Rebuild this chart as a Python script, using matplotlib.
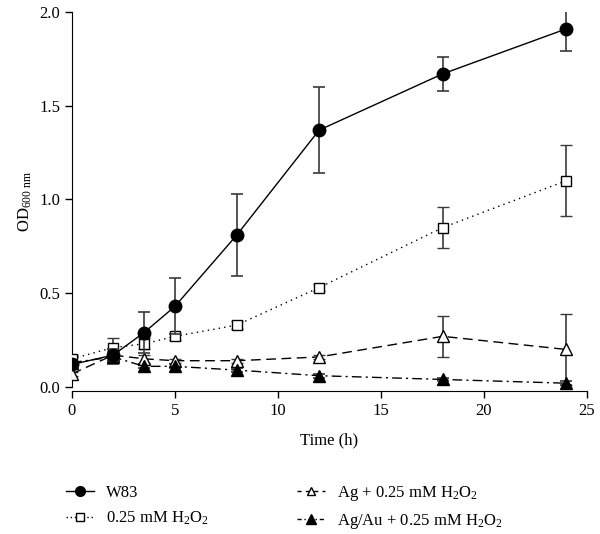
import matplotlib
matplotlib.use("Agg")
import matplotlib.pyplot as plt
import numpy as np
from matplotlib.lines import Line2D

plt.rcParams['font.family'] = ['Liberation Serif', 'DejaVu Serif']
plt.rcParams['mathtext.fontset'] = 'custom'
plt.rcParams['mathtext.rm'] = 'Liberation Serif'
plt.rcParams['mathtext.it'] = 'Liberation Serif:italic'

time_h = [0, 2, 3.5, 5, 8, 12, 18, 24]
w83 = [0.12, 0.17, 0.29, 0.43, 0.81, 1.37, 1.67, 1.91]
w83_err = [0.02, 0.03, 0.11, 0.15, 0.22, 0.23, 0.09, 0.12]
h2o2 = [0.15, 0.21, 0.23, 0.27, 0.33, 0.53, 0.85, 1.10]
h2o2_err = [0.02, 0.05, 0.03, 0.02, 0.02, 0.02, 0.11, 0.19]
ag = [0.07, 0.17, 0.15, 0.14, 0.14, 0.16, 0.27, 0.20]
ag_err = [0.01, 0.02, 0.02, 0.01, 0.01, 0.01, 0.11, 0.19]
agau = [0.13, 0.16, 0.11, 0.11, 0.09, 0.06, 0.04, 0.02]
agau_err = [0.01, 0.04, 0.01, 0.01, 0.01, 0.01, 0.01, 0.01]

labels = ['W83', r'0.25 mM H$_2$O$_2$', r'Ag + 0.25 mM H$_2$O$_2$', r'Ag/Au + 0.25 mM H$_2$O$_2$']

fig = plt.figure(figsize=(6.0, 5.34), dpi=100)
ax = fig.add_axes([0.12, 0.268, 0.858, 0.7095])

ecol = '#3a3a3a'
common = dict(ecolor=ecol, elinewidth=1.2, capsize=4, capthick=1.2, color='black', lw=1.0)
ax.errorbar(time_h, w83, yerr=w83_err, marker='o', ms=9, mfc='black', mec='black',
            ls='-', zorder=5, **common)
ax.errorbar(time_h, h2o2, yerr=h2o2_err, marker='s', ms=7.5, mfc='white', mec='black',
            mew=1.0, ls=(0, (1, 3)), zorder=4, **common)
ax.errorbar(time_h, ag, yerr=ag_err, marker='^', ms=8.5, mfc='white', mec='black',
            mew=1.0, ls=(0, (7, 4)), zorder=3, **common)
ax.errorbar(time_h, agau, yerr=agau_err, marker='^', ms=8.5, mfc='black', mec='black',
            ls=(0, (7, 3, 1.5, 3)), zorder=3, **common)

ax.set_xlim(0, 25)
ax.set_ylim(-0.021, 2.0)
ax.set_xticks([0, 5, 10, 15, 20, 25])
ax.set_yticks([0.0, 0.5, 1.0, 1.5, 2.0])
ax.set_yticklabels(['0.0', '0.5', '1.0', '1.5', '2.0'])
ax.spines['top'].set_visible(False)
ax.spines['right'].set_visible(False)
ax.spines['left'].set_bounds(0.0, 2.0)
ax.tick_params(direction='out', length=5, width=1.0, labelsize=12)
ax.set_xlabel('Time (h)', fontsize=12, labelpad=10)
ax.set_ylabel(r'OD$_{\mathrm{600\ nm}}$', fontsize=12)

hs = [Line2D([], [], color='black', lw=1.0, ls='-', marker='o', ms=7, mfc='black'),
      Line2D([], [], color='black', lw=1.0, ls=(0, (1, 2)), marker='s', ms=5.5, mfc='white'),
      Line2D([], [], color='black', lw=1.0, ls=(0, (3, 3)), marker='^', ms=5.5, mfc='white'),
      Line2D([], [], color='black', lw=1.0, ls=(0, (3, 2, 1, 2)), marker='^', ms=6.5, mfc='black')]
fig.legend(hs, labels, loc='upper center', bbox_to_anchor=(0.4735, 0.1225), ncol=2,
           frameon=False, fontsize=12, handlelength=1.7, columnspacing=5.3,
           labelspacing=0.55, handletextpad=0.7)

fig.savefig('out.png', dpi=100)
